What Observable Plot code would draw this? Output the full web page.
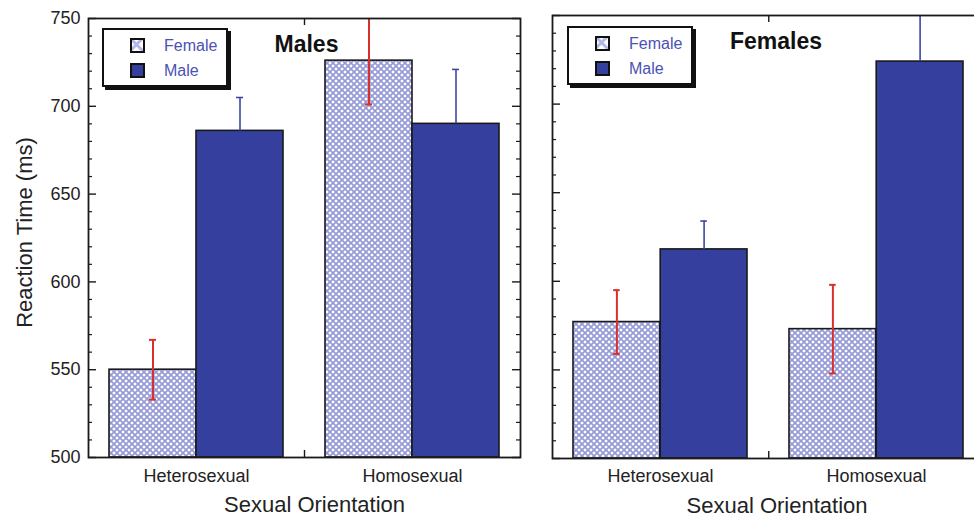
<!DOCTYPE html>
<html>
<head>
<meta charset="utf-8">
<script src="https://cdn.jsdelivr.net/npm/d3@7"></script>
<script src="https://cdn.jsdelivr.net/npm/@observablehq/plot@0.6"></script>
<style>
  html, body { margin: 0; padding: 0; background: #fff; overflow: hidden; width: 974px; height: 517px; }
  #wrap { position: relative; width: 974px; height: 517px; overflow: hidden; font-family: "Liberation Sans", Arial, Helvetica, sans-serif; }
  .panel { position: absolute; top: 0; }
  .panel svg { max-width: none !important; display: block; }
  .legend { position: absolute; width: 122px; height: 55px; border: 2px solid #111; background: #fff; box-shadow: 3px 3px 0 #111; }
  .legend .swatch { position: absolute; left: 26px; width: 15px; height: 15px; }
  .legend .label { position: absolute; left: 60px; font-size: 16px; line-height: 16px; color: #4a52b4; }
</style>
</head>
<body>
<svg width="0" height="0" style="position:absolute">
  <defs>
    <pattern id="hatch" patternUnits="userSpaceOnUse" width="6" height="6">
      <rect width="6" height="6" fill="#fff"/>
      <path d="M0,0L6,6M6,0L0,6" stroke="#959ad7" stroke-width="1.7"/>
    </pattern>
    <pattern id="hatchKey" patternUnits="userSpaceOnUse" width="13" height="13">
      <rect width="13" height="13" fill="#fff"/>
      <path d="M0,0L13,13M13,0L0,13" stroke="#b4b8e6" stroke-width="3"/>
    </pattern>
  </defs>
</svg>
<div id="wrap">
  <div class="panel" id="left" style="left:0px"></div>
  <div class="panel" id="right" style="left:540px"></div>
</div>
<script>
// Groups on the x axis and the two target sexes shown side by side
const orientations = ["Heterosexual", "Homosexual"];
const targetSexes = ["Female", "Male"];
const yTicks = [500, 550, 600, 650, 700, 750];

// Male participants: mean reaction time (ms) and error, per target sex
const malesFemaleRT = [550, 726];
const malesFemaleErr = [17, 25];
const malesMaleRT = [686, 690];
const malesMaleErr = [19, 31];

// Female participants
const femalesFemaleRT = [577, 573];
const femalesFemaleErr = [18, 25];
const femalesMaleRT = [618, 724];
const femalesMaleErr = [16, 30];

const yDomain = [yTicks[0], yTicks[yTicks.length - 1]];
const minorTicks = d3.range(yDomain[0], yDomain[1] + 1, 10).filter(v => v % 50 !== 0);

const ink = "#1a1a1a";
const maleFill = "#35409e";
const maleErrColor = "#3c47a8";
const femaleErrColor = "#d8302c";

function panel(cfg) {
  const height = 517;
  const {width, marginLeft, marginRight, marginTop, marginBottom} = cfg;
  const rows = orientations.map((o, i) => ({
    orientation: o,
    female: cfg.femaleRT[i], femaleErr: cfg.femaleErr[i],
    male: cfg.maleRT[i], maleErr: cfg.maleErr[i]
  }));
  const paddingInner = 0.1944, paddingOuter = paddingInner / 2;
  const fw = width - marginLeft - marginRight;
  const fh = height - marginTop - marginBottom;
  const step = fw / (orientations.length - paddingInner + 2 * paddingOuter);
  const bw = step * (1 - paddingInner);
  const half = bw / 2, quarter = bw / 4, cap = 3.5;

  const marks = [
    // bars: female (hatched) on the left half of each band, male on the right half
    Plot.barY(rows, {x: "orientation", y1: yDomain[0], y2: "female", insetRight: half,
      fill: "url(#hatch)", stroke: ink, strokeWidth: 1.6, clip: true}),
    Plot.barY(rows, {x: "orientation", y1: yDomain[0], y2: "male", insetLeft: half,
      fill: maleFill, stroke: ink, strokeWidth: 1.6, clip: true}),
    // error bars
    Plot.ruleX(rows, {x: "orientation", dx: -quarter, y1: d => d.female - d.femaleErr, y2: d => d.female + d.femaleErr,
      stroke: femaleErrColor, strokeWidth: 2, clip: true}),
    Plot.tickY(rows, {x: "orientation", y: d => d.female + d.femaleErr, insetLeft: quarter - cap, insetRight: bw - quarter - cap,
      stroke: femaleErrColor, strokeWidth: 2, clip: true}),
    Plot.tickY(rows, {x: "orientation", y: d => d.female - d.femaleErr, insetLeft: quarter - cap, insetRight: bw - quarter - cap,
      stroke: femaleErrColor, strokeWidth: 2, clip: true}),
    Plot.ruleX(rows, {x: "orientation", dx: quarter, y1: "male", y2: d => d.male + d.maleErr,
      stroke: maleErrColor, strokeWidth: 1.6, clip: true}),
    Plot.tickY(rows, {x: "orientation", y: d => d.male + d.maleErr, insetLeft: 3 * quarter - cap, insetRight: quarter - cap,
      stroke: maleErrColor, strokeWidth: 1.6, clip: true}),
    // inward tick marks on the left and right edges of the frame
    Plot.tickY(yTicks, {y: d => d, insetRight: fw - 8, stroke: ink, strokeWidth: 1.4}),
    Plot.tickY(minorTicks, {y: d => d, insetRight: fw - 4, stroke: ink, strokeWidth: 1.2}),
    Plot.tickY(yTicks, {y: d => d, insetLeft: fw - 8, stroke: ink, strokeWidth: 1.4}),
    Plot.tickY(minorTicks, {y: d => d, insetLeft: fw - 4, stroke: ink, strokeWidth: 1.2}),
    // divider ticks between the two groups, top and bottom
    Plot.ruleX([orientations[0]], {x: d => d, dx: step / 2, insetBottom: fh - 7, stroke: ink, strokeWidth: 1.4}),
    Plot.ruleX([orientations[0]], {x: d => d, dx: step / 2, insetTop: fh - 7, stroke: ink, strokeWidth: 1.4}),
    Plot.frame({stroke: ink, strokeWidth: 1.8}),
    // group labels and axis title
    Plot.text(orientations, {x: d => d, text: d => d, frameAnchor: "bottom", lineAnchor: "middle",
      dy: cfg.tickDy, fontSize: 18, fill: "#222"}),
    Plot.text(["Sexual Orientation"], {text: d => d, frameAnchor: "bottom", lineAnchor: "middle", textAnchor: "middle",
      dx: cfg.xLabelDx, dy: cfg.xLabelDy, fontSize: 22, fill: "#222"}),
    // panel title
    Plot.text([cfg.title], {text: d => d, frameAnchor: "top", lineAnchor: "middle", textAnchor: "middle",
      dx: cfg.titleDx, dy: cfg.titleDy, fontSize: 23, fontWeight: "bold", fill: "#111"})
  ];
  if (cfg.showY) {
    marks.push(
      Plot.axisY({ticks: yTicks, tickSize: 0, tickPadding: 8, fontSize: 18, label: null, fill: "#222"}),
      Plot.text(["Reaction Time (ms)"], {text: d => d, frameAnchor: "left", lineAnchor: "middle", textAnchor: "middle",
        dx: -64, dy: -5.5, rotate: -90, fontSize: 22, fill: "#222"})
    );
  }
  return Plot.plot({
    width, height, marginLeft, marginRight, marginTop, marginBottom,
    style: {background: "transparent", fontFamily: '"Liberation Sans", Arial, Helvetica, sans-serif', color: ink, overflow: "visible"},
    x: {type: "band", domain: orientations, paddingInner, paddingOuter, axis: null},
    y: {domain: yDomain, axis: null, label: null},
    marks
  });
}

function legend(left, top) {
  const box = document.createElement("div");
  box.className = "legend";
  box.style.left = left + "px";
  box.style.top = top + "px";
  const fills = ["url(#hatchKey)", maleFill];
  targetSexes.forEach((name, i) => {
    const rowTop = 8 + i * 25;
    const sw = document.createElementNS("http://www.w3.org/2000/svg", "svg");
    sw.setAttribute("class", "swatch");
    sw.setAttribute("width", 15);
    sw.setAttribute("height", 15);
    sw.style.top = rowTop + "px";
    sw.innerHTML = `<rect x="1" y="1" width="13" height="13" fill="${fills[i]}" stroke="#111" stroke-width="2"/>`;
    box.appendChild(sw);
    const lab = document.createElement("div");
    lab.className = "label";
    lab.style.top = (rowTop - 0.5) + "px";
    lab.textContent = name;
    box.appendChild(lab);
  });
  return box;
}

document.getElementById("left").appendChild(panel({
  title: "Males",
  femaleRT: malesFemaleRT, femaleErr: malesFemaleErr, maleRT: malesMaleRT, maleErr: malesMaleErr,
  width: 530, marginLeft: 88, marginRight: 10, marginTop: 18, marginBottom: 60,
  showY: true, titleDx: 2, titleDy: 26, tickDy: 18.5, xLabelDx: 10, xLabelDy: 47.5
}));
document.getElementById("right").appendChild(panel({
  title: "Females",
  femaleRT: femalesFemaleRT, femaleErr: femalesFemaleErr, maleRT: femalesMaleRT, maleErr: femalesMaleErr,
  width: 455, marginLeft: 12, marginRight: 10, marginTop: 15, marginBottom: 59,
  showY: false, titleDx: 7, titleDy: 26, tickDy: 18, xLabelDx: 8, xLabelDy: 47
}));
const wrap = document.getElementById("wrap");
wrap.appendChild(legend(102, 28));
wrap.appendChild(legend(567, 26));
</script>
</body>
</html>
